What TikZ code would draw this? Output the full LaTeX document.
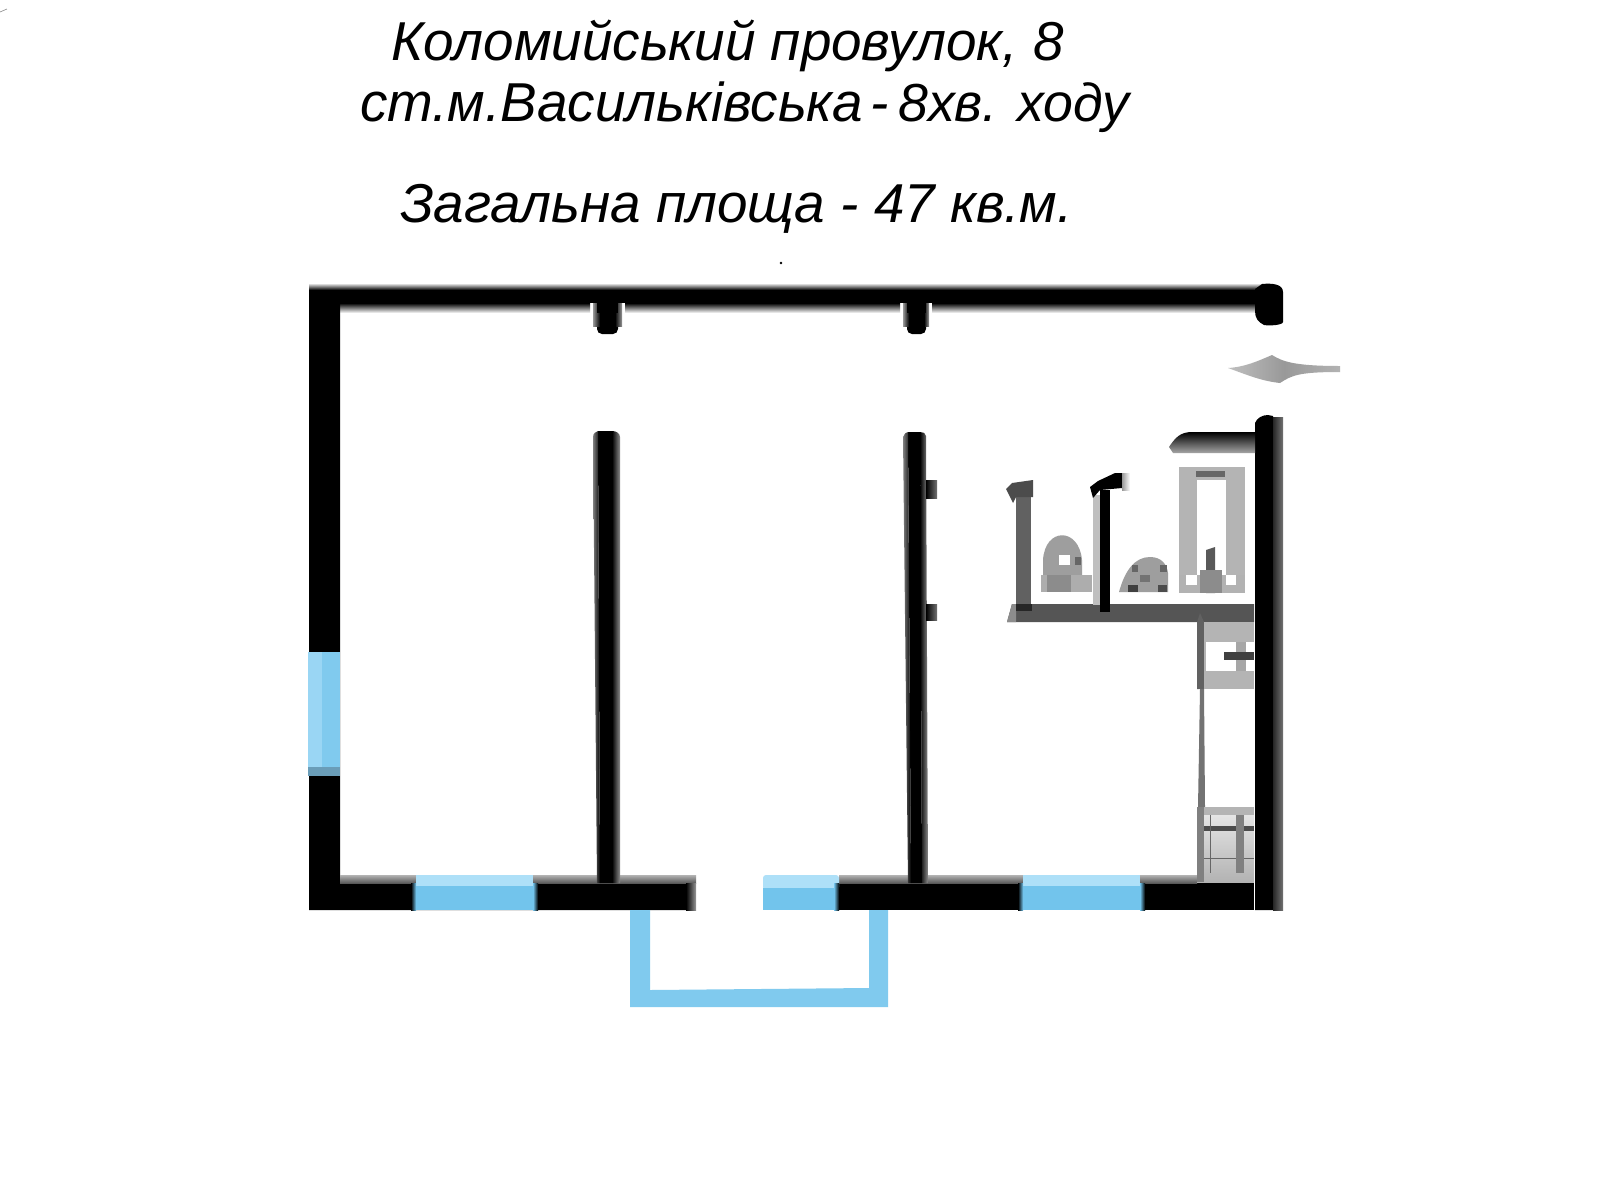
\documentclass[tikz,border=0pt]{standalone}
\usepackage{fontspec}
\setmainfont{Liberation Sans}
\definecolor{glass}{HTML}{72C4EC}
\definecolor{glasslt}{HTML}{AEE0F8}
\definecolor{glassmid}{HTML}{9AD6F4}
\definecolor{glassdk}{HTML}{6A9DB8}
\definecolor{steel}{HTML}{555555}
\definecolor{pale}{HTML}{B4B4B4}
\tikzset{
  core/.style={fill=black},
  edge/.style={top color=black!30,bottom color=black!65},
  glassfill/.style={fill=glass},
  glasstop/.style={fill=glasslt},
  kit/.style={fill=steel},
  light/.style={fill=pale},
  fadeR/.style={left color=black,right color=black!40},
  fadeL/.style={left color=black!40,right color=black},
  seamL/.style={left color=black,right color=glass},
  seamR/.style={left color=glass,right color=black},
  caption/.style={anchor=base west,inner sep=0pt,font=\fontsize{54.8}{60}\selectfont\itshape}
}
\begin{document}
\begin{tikzpicture}[x=1pt,y=-1pt]
\useasboundingbox (0,0) rectangle (1600,1200);
\fill[white] (0,0) rectangle (1600,1200);
% captions
\node[caption] (t1) at (391,60) {Коломийський провулок, 8};
\node[caption] (t2a) at (360,121) {ст.м.Васильківська};
\node[caption] (t2b) at (870,121) {-};
\node[caption] (t2c) at (898,121) {\fontsize{53.6}{60}\selectfont 8хв. ходу};
\node[caption] (t3) at (400,222) {Загальна площа - 47 кв.м.};
% specks
\fill[black] (781,263) circle (1.4);
\draw[black!45,line width=.6pt] (0,12) -- (7,9);
% stubs
\fill[black,rounded corners=5pt] (597,300) rectangle (618,334);
\shade[fadeL] (593,303) rectangle (600,326);
\shade[fadeR] (615,303) rectangle (622,326);
\fill[black,rounded corners=5pt] (907,300) rectangle (926,334);
\shade[fadeL] (903,303) rectangle (909,326);
\shade[fadeR] (924,303) rectangle (929,326);
% top wall with soft edges
\shade[top color=white,bottom color=black] (309,283) rectangle (1270,290);
\shade[top color=black,bottom color=white] (340,303) rectangle (590,313);
\shade[top color=black,bottom color=white] (625,303) rectangle (900,313);
\shade[top color=black,bottom color=white] (932,303) rectangle (1256,313);
\fill[core] (597,303) rectangle (618,313);
\fill[core] (907,303) rectangle (926,313);
\fill[core] (309,290) rectangle (1270,303);
% outer shell, left and bottom
\fill[core] (309,290) -- (340,290) -- (340,883) -- (686,883) -- (686,910) -- (309,910) -- cycle;
\shade[edge] (340,875) rectangle (696,883);
\shade[left color=black,right color=black!40] (686,883) rectangle (696,910);
\fill[core] (839,883) rectangle (1254,910);
\shade[edge] (839,875) rectangle (1197,883);
% right end of the top wall
\fill[core] (1262,284) .. controls (1272,283) and (1283,284) .. (1283,292) -- (1283,322) .. controls (1283,325) and (1270,326) .. (1264,325) .. controls (1258,322) and (1255,318) .. (1255,311) -- (1255,289) -- cycle;
% right wall
\fill[core] (1255,423) .. controls (1257,418) and (1262,415) .. (1268,415) -- (1273,416) -- (1273,910) -- (1255,910) -- cycle;
\shade[left color=black!85,right color=black!55] (1273,417) rectangle (1283,910);
% hood
\shade[top color=black,bottom color=black!35] (1169,447) .. controls (1175,438) and (1180,432) .. (1192,432) -- (1255,432) -- (1255,453) -- (1173,453) -- cycle;
% inner walls
\fill[core] (598,431) -- (612,431) -- (612,883) -- (600,883) -- cycle;
\shade[left color=black!50,right color=black] (593,437) .. controls (593,433) and (596,432) .. (598,431) -- (600,883) -- (597,883) -- cycle;
\shade[left color=black,right color=black!45] (612,431) .. controls (616,431) and (620,433) .. (620,437) -- (620,883) -- (612,883) -- cycle;
\fill[core] (908,432) -- (920,432) -- (922,883) -- (911,883) -- cycle;
\shade[left color=black!50,right color=black] (903,437) .. controls (904,434) and (906,432) .. (908,432) -- (911,883) -- (908,883) -- cycle;
\shade[left color=black,right color=black!45] (920,432) .. controls (923,432) and (926,433) .. (926,436) -- (928,883) -- (922,883) -- cycle;
\shade[left color=black,right color=black!55] (926,480) rectangle (937,498);
\shade[left color=black,right color=black!55] (926,604) rectangle (937,620);
% door mark
\shade[left color=black!25,right color=black!30,middle color=black!40] (1228,368) .. controls (1245,367) and (1258,361) .. (1272,355) .. controls (1282,361) and (1292,366) .. (1340,366) -- (1340,372) .. controls (1300,372) and (1292,375) .. (1280,383) .. controls (1262,381) and (1250,376) .. (1228,368) -- cycle;
% windows
\fill[glassmid] (308,652) rectangle (322,767);
\fill[glass!90!white] (322,652) rectangle (340,767);
\fill[glassdk] (308,767) rectangle (340,776);
\fill[glasstop] (416,875) rectangle (533,886);
\fill[glassfill] (416,886) rectangle (533,910);
\shade[seamL] (411,883) rectangle (416,910);
\shade[seamR] (533,883) rectangle (538,910);
\fill[glasstop,rounded corners=3pt] (763,875) -- (839,875) -- (839,890) -- (763,890) -- cycle;
\fill[glassfill] (763,888) rectangle (839,910);
\shade[seamR] (834,883) rectangle (839,910);
\fill[glasstop] (1023,875) rectangle (1140,886);
\fill[glassfill] (1023,886) rectangle (1140,910);
\shade[seamL] (1018,883) rectangle (1023,910);
\shade[seamR] (1140,883) rectangle (1145,910);
% balcony
\fill[glass!90!white] (630,910) -- (650,910) -- (650,990) -- (869,988) -- (869,910) -- (888,910) -- (888,1007) -- (630,1007) -- cycle;
% kitchen: upper units
\fill[light] (1179,467) rectangle (1245,593);
\fill[white] (1197,480) rectangle (1226,575);
\fill[black!60] (1196,471) rectangle (1225,477);
\fill[black!30] (1179,575) rectangle (1245,593);
\fill[black!65] (1206,593) -- (1206,550) -- (1215,547) -- (1215,593) -- cycle;
\fill[black!45] (1200,570) rectangle (1222,593);
\fill[white] (1186,575) rectangle (1197,585);
\fill[white] (1226,575) rectangle (1236,585);
% shelf and uprights
\fill[kit] (1012,604) -- (1254,604) -- (1254,622) -- (1007,622) -- cycle;
\fill[black!45] (1012,604) -- (1007,622) -- (1016,622) -- (1016,604) -- cycle;
\fill[black!62] (1016,490) rectangle (1031,605);
\fill[black!85] (1016,604) rectangle (1032,611);
\fill[black!70] (1006,489) -- (1012,483) -- (1033,480) -- (1033,497) -- (1016,497) -- (1013,503) -- cycle;
\fill[black!25] (1093,495) rectangle (1100,605);
\fill[core] (1100,490) rectangle (1110,612);
\fill[core] (1090,487) -- (1098,481) -- (1115,473) -- (1122,473) -- (1122,488) -- (1100,490) -- (1093,498) -- cycle;
\shade[left color=black!40,right color=white] (1122,473) rectangle (1130,490);
% sink and hob domes
\fill[black!38] (1043,575) -- (1043,560) .. controls (1045,527) and (1079,527) .. (1082,560) -- (1082,575) -- cycle;
\fill[black!32] (1041,575) rectangle (1092,592);
\fill[black!45] (1047,575) rectangle (1071,592);
\fill[white] (1059,555) rectangle (1070,565);
\fill[black!60] (1075,557) rectangle (1081,565);
\fill[black!38] (1119,592) .. controls (1125,570) and (1135,557) .. (1150,557) .. controls (1162,557) and (1167,565) .. (1168,573) -- (1168,592) -- cycle;
\fill[black!60] (1132,565) rectangle (1138,572);
\fill[black!60] (1160,565) rectangle (1167,572);
\fill[black!55] (1140,575) rectangle (1150,582);
\fill[black!75] (1128,585) rectangle (1138,592);
\fill[black!70] (1158,585) rectangle (1167,592);
% lower units
\fill[black!62] (1197,622) -- (1200,613) -- (1204,622) -- (1204,689) -- (1197,689) -- cycle;
\fill[black!55] (1200,689) -- (1204,689) -- (1205,807) -- (1198,807) -- cycle;
\fill[light] (1204,622) rectangle (1254,689);
\fill[white] (1206,642) rectangle (1254,671);
\fill[black!35] (1236,642) rectangle (1246,671);
\fill[black!75] (1224,652) rectangle (1254,660);
\shade[top color=black!8,bottom color=black!30] (1197,807) rectangle (1254,882);
\fill[light] (1197,807) rectangle (1254,815);
\fill[black!70] (1197,826) rectangle (1254,831);
\fill[black!50] (1197,807) rectangle (1204,882);
\draw[black!60,line width=1pt] (1210,815) -- (1210,873) (1204,858) -- (1254,858);
\fill[black!50] (1236,815) rectangle (1244,873);
\end{tikzpicture}
\end{document}
